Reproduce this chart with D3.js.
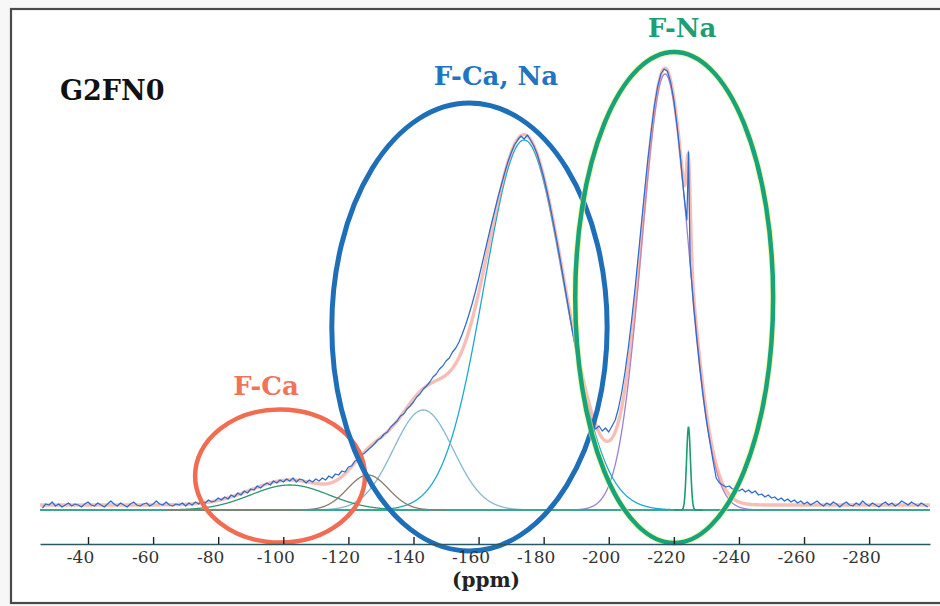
<!DOCTYPE html>
<html><head><meta charset="utf-8">
<script src="https://cdn.jsdelivr.net/npm/d3@7/dist/d3.min.js"></script>
<style>body{margin:0;background:#fff}svg{display:block}</style>
</head><body>
<svg id="c" width="940" height="606"></svg>
<script>
// ---------- data ----------
const tickValues = [-40,-60,-80,-100,-120,-140,-160,-180,-200,-220,-240,-260,-280];
const xLabel = "(ppm)";
const sampleLabel = "G2FN0";
const regionLabels = ["F-Ca", "F-Ca, Na", "F-Na"];

// fitted peak components (centre ppm, height a.u., sigma ppm, drawn range)
const compCenters = [-102, -126, -143, -174, -217.3, -224.5];
const compHeights = [25, 35, 100, 370, 436, 83];
const compSigmas  = [12.0, 6.3, 9.2, 12.3, 7.2, 0.6];
const compFrom    = [-64, -64, -100, -120, -174, -220];
const compTo      = [-140, -150, -190, -240, -262, -229];
const baselineOffset = 5;

// experimental spectrum [ppm, intensity a.u.]
const expData = [
[-26,2],[-27,6],[-28,5],[-29,8],[-30,4],[-31,6],[-32,3],[-33,5],[-34,7],[-35,4],[-36,6],[-37,5],[-38,3],[-39,6],[-40,8],
[-41,5],[-42,4],[-43,7],[-44,5],[-45,3],[-46,6],[-47,9],[-48,6],[-49,4],[-50,7],[-51,5],[-52,3],[-53,6],[-54,8],[-55,5],
[-56,4],[-57,6],[-58,7],[-59,4],[-60,6],[-61,9],[-62,6],[-63,5],[-64,8],[-65,5],[-66,4],[-67,6],[-68,5],[-69,7],[-70,4],
[-71,7],[-72,5],[-73,8],[-74,6],[-75,9],[-76,7],[-77,10],[-78,8],[-79,9],[-80,12],[-81,10],[-82,13],[-83,11],[-84,15],[-85,13],
[-86,17],[-87,15],[-88,19],[-89,17],[-90,21],[-91,20],[-92,24],[-93,22],[-94,25],[-95,27],[-96,25],[-97,29],[-98,27],[-99,30],[-100,28],
[-101,31],[-102,29],[-103,32],[-104,28],[-105,31],[-106,30],[-107,27],[-108,30],[-109,28],[-110,31],[-111,29],[-112,32],[-113,30],[-114,34],[-115,32],
[-116,36],[-117,35],[-118,39],[-119,38],[-120,43],[-121,44],[-122,49],[-123,50],[-124,55],[-125,57],[-126,60],[-127,63],[-128,66],[-129,70],[-130,72],
[-131,76],[-132,78],[-133,83],[-134,86],[-135,89],[-136,94],[-137,96],[-138,101],[-139,104],[-140,108],[-141,113],[-142,116],[-143,121],[-144,124],[-145,128],
[-146,133],[-147,136],[-148,141],[-149,144],[-150,149],[-151,152],[-152,158],[-153,162],[-154,168],[-155,176],[-156,185],[-157,195],[-158,206],[-159,218],[-160,231],
[-161,245],[-162,259],[-163,273],[-164,287],[-165,300],[-166,313],[-167,325],[-168,337],[-169,348],[-170,357],[-171,365],[-172,370],[-173,374],[-174,371],[-175,375],
[-176,370],[-177,364],[-178,356],[-179,345],[-180,333],[-181,319],[-182,304],[-183,287],[-184,270],[-185,252],[-186,233],[-187,214],[-188,195],[-189,176],[-190,157],
[-191,139],[-192,122],[-193,107],[-194,95],[-195,86],[-196,81],[-197,84],[-198,79],[-199,82],[-200,78],[-201,84],[-202,90],[-203,102],[-204,118],[-205,138],
[-206,162],[-207,189],[-208,219],[-209,252],[-210,285],[-211,318],[-212,350],[-213,378],[-214,404],[-215,423],[-216,436],[-217,441],[-218,439],[-219,428],[-220,410],
[-221,384],[-222,353],[-223,318],[-224,290],[-224.5,358],[-225,248],[-226,206],[-227,172],[-228,141],[-229,113],[-230,89],[-231,69],[-232,50],[-233,32],[-234,27],
[-235,25],[-236,23],[-237,24],[-238,21],[-239,22],[-240,19],[-241,21],[-242,18],[-243,20],[-244,17],[-245,19],[-246,15],[-247,16],[-248,13],[-249,15],
[-250,12],[-251,13],[-252,10],[-253,12],[-254,9],[-255,11],[-256,8],[-257,10],[-258,7],[-259,9],[-260,6],[-261,8],[-262,5],[-263,7],[-264,9],
[-265,6],[-266,4],[-267,7],[-268,5],[-269,8],[-270,6],[-271,3],[-272,6],[-273,8],[-274,5],[-275,4],[-276,7],[-277,5],[-278,9],[-279,6],
[-280,4],[-281,7],[-282,5],[-283,3],[-284,6],[-285,8],[-286,5],[-287,7],[-288,4],[-289,6],[-290,9],[-291,7],[-292,5],[-293,8],[-294,6],
[-295,4],[-296,7],[-297,5],[-298,3]
];

// region ellipses in data units: centre ppm, centre intensity, half-width ppm, half-height intensity
const ellipseCx = [-99.0, -157.2, -220.1];
const ellipseCy = [34, 183, 212.5];
const ellipseRx = [26.1, 42.3, 30.4];
const ellipseRy = [66.5, 224, 245.5];

// ---------- styles ----------
const compColors = ["#2f9572", "#8d7b6c", "#86b8cf", "#22a7d2", "#9d80d6", "#1a9d6c"];
const ellipseColors = ["#f26c52", "#1f6fb8", "#18a47b"];
const labelColors = ["#f0735a", "#2274c2", "#1c9f75"];

// ---------- chart ----------
const svg = d3.select("#c");
const W = 940, H = 606;
const x = d3.scaleLinear().domain([-25.25, -298.7]).range([40, 930]);
const y = d3.scaleLinear().domain([0, 441]).range([510, 69]);
const ppx = Math.abs(x(0) - x(1));
const ppy = Math.abs(y(0) - y(1));

svg.append("rect").attr("width", W).attr("height", H).attr("fill", "#f7f7f7");
svg.append("rect").attr("x", 11).attr("y", 9).attr("width", 940).attr("height", 594)
  .attr("fill", "#fff").attr("stroke", "#4a4a4a").attr("stroke-width", 2.2);

const gauss = (p, i) => compHeights[i] * Math.exp(-((p - compCenters[i]) ** 2) / (2 * compSigmas[i] ** 2));
const grid = d3.range(-25.25, -298.7, -0.1);
const line = d3.line().x(d => x(d[0])).y(d => y(d[1]));

function drawComp(i, w) {
  const pts = grid.filter(p => p <= compFrom[i] && p >= compTo[i]).map(p => [p, gauss(p, i)]);
  svg.append("path").attr("d", line(pts)).attr("fill", "none")
    .attr("stroke", compColors[i]).attr("stroke-width", w || 1.3);
}
[4, 3, 2, 0].forEach(i => drawComp(i));
svg.append("path").attr("d", line([[-25.25, 0], [-298.7, 0]]))
  .attr("stroke", "#3aa88e").attr("stroke-width", 2).attr("fill", "none");
drawComp(1);
drawComp(5, 1.6);

// fit sum
const fitPts = grid.map(p => [p, d3.sum(compHeights, (h, i) => gauss(p, i)) + baselineOffset]);
svg.append("path").attr("d", line(fitPts)).attr("fill", "none")
  .attr("stroke", "#f08878").attr("stroke-width", 3.4).attr("stroke-opacity", 0.55);

// experimental
svg.append("path").attr("d", line(expData)).attr("fill", "none")
  .attr("stroke", "#2b6cd0").attr("stroke-width", 1.25).attr("stroke-linejoin", "round");

// ellipses
ellipseCx.forEach((cx, i) => {
  if (i === 2) {
    svg.append("ellipse").attr("cx", x(cx)).attr("cy", y(ellipseCy[i]))
      .attr("rx", ellipseRx[i] * ppx).attr("ry", ellipseRy[i] * ppy)
      .attr("fill", "none").attr("stroke", "#eef27a").attr("stroke-width", 6.5).attr("stroke-opacity", 0.6);
  }
  svg.append("ellipse").attr("cx", x(cx)).attr("cy", y(ellipseCy[i]))
    .attr("rx", ellipseRx[i] * ppx).attr("ry", ellipseRy[i] * ppy)
    .attr("fill", "none").attr("stroke", ellipseColors[i]).attr("stroke-width", i === 1 ? 5 : 4.5);
});

// axis
const axis = d3.axisBottom(x).tickValues(tickValues).tickFormat(d => String(d))
  .tickSizeInner(-7).tickSizeOuter(0);
const gA = svg.append("g").attr("transform", "translate(0,544)").call(axis);
gA.select(".domain").attr("stroke", "#2c5866").attr("stroke-width", 1.6);
gA.selectAll(".tick line").attr("stroke", "#222").attr("stroke-width", 1.4);
gA.selectAll(".tick text").attr("font-family", "DejaVu Serif").attr("font-size", 17)
  .attr("fill", "#333").attr("dy", null).attr("y", 19).attr("x", -8);

svg.append("text").attr("x", 486).attr("y", 587).attr("text-anchor", "middle")
  .attr("font-family", "DejaVu Serif").attr("font-weight", "bold").attr("font-size", 20)
  .attr("fill", "#222").text(xLabel);

// labels
svg.append("text").attr("x", 60).attr("y", 100)
  .attr("font-family", "DejaVu Serif").attr("font-weight", "bold").attr("font-size", 27)
  .attr("fill", "#111").text(sampleLabel);
const labelPos = [[266, 395], [496, 85], [682, 37]];
regionLabels.forEach((t, i) => {
  svg.append("text").attr("x", labelPos[i][0]).attr("y", labelPos[i][1]).attr("text-anchor", "middle")
    .attr("font-family", "DejaVu Serif").attr("font-weight", "bold").attr("font-size", 26)
    .attr("fill", labelColors[i]).text(t);
});
</script>
</body></html>
